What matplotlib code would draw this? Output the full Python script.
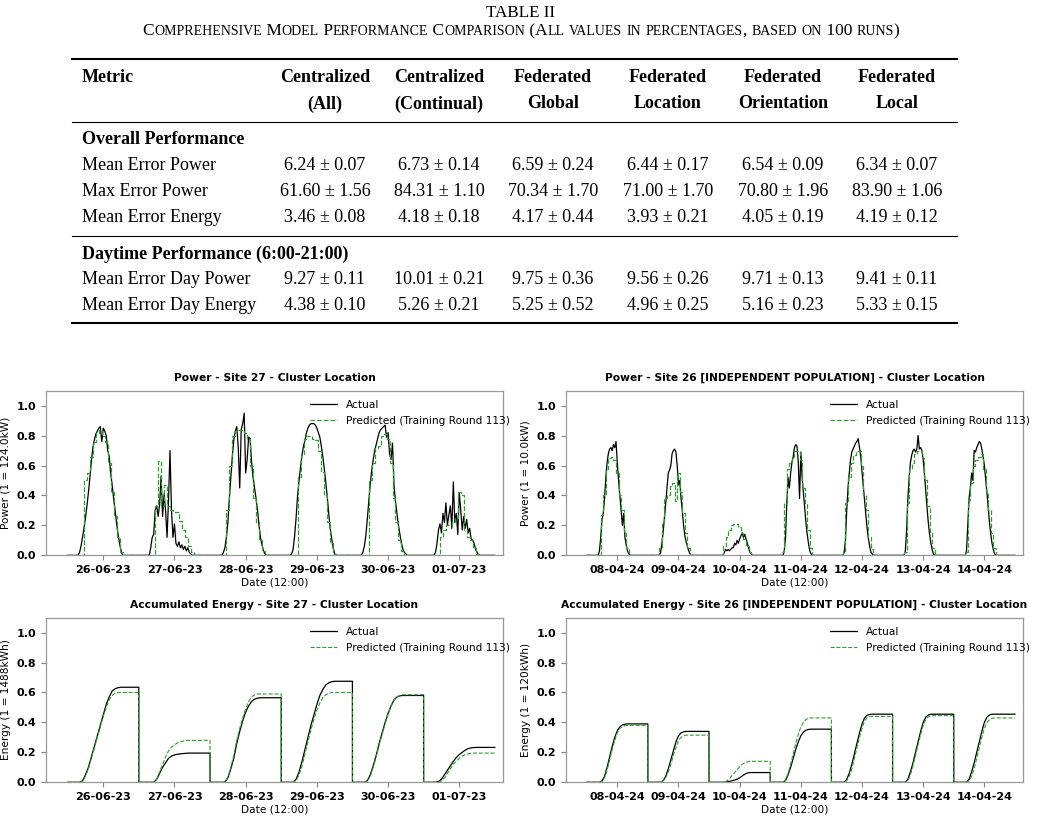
import numpy as np
import matplotlib
matplotlib.use("Agg")
import matplotlib.pyplot as plt
import matplotlib.dates as mdates
from matplotlib.lines import Line2D

W, H = 1042, 817

# ---- table data ----
TABLE_TITLE = "TABLE II"
TABLE_SUB = "Comprehensive Model Performance Comparison (All values in percentages, based on 100 runs)"
COLUMNS = [("Centralized", "(All)"), ("Centralized", "(Continual)"), ("Federated", "Global"),
           ("Federated", "Location"), ("Federated", "Orientation"), ("Federated", "Local")]
OVERALL_ROWS = ["Mean Error Power", "Max Error Power", "Mean Error Energy"]
OVERALL_MEAN = [[6.24, 6.73, 6.59, 6.44, 6.54, 6.34],
                [61.60, 84.31, 70.34, 71.00, 70.80, 83.90],
                [3.46, 4.18, 4.17, 3.93, 4.05, 4.19]]
OVERALL_STD = [[0.07, 0.14, 0.24, 0.17, 0.09, 0.07],
               [1.56, 1.10, 1.70, 1.70, 1.96, 1.06],
               [0.08, 0.18, 0.44, 0.21, 0.19, 0.12]]
DAY_ROWS = ["Mean Error Day Power", "Mean Error Day Energy"]
DAY_MEAN = [[9.27, 10.01, 9.75, 9.56, 9.71, 9.41],
            [4.38, 5.26, 5.25, 4.96, 5.16, 5.33]]
DAY_STD = [[0.11, 0.21, 0.36, 0.26, 0.13, 0.11],
           [0.10, 0.21, 0.52, 0.25, 0.23, 0.15]]

# ---- site 27 (half-hourly actual from 03:00, hourly predicted from 03:00) ----
S27_DAYS = ["2023-06-26", "2023-06-27", "2023-06-28", "2023-06-29", "2023-06-30", "2023-07-01"]
S27_POWER_ACT = [
    [0, 0, 0.02, 0.06, 0.12, 0.18, 0.25, 0.33, 0.42, 0.52, 0.63, 0.72, 0.77, 0.81, 0.83, 0.85, 0.86, 0.76,
     0.85, 0.83, 0.80, 0.70, 0.66, 0.55, 0.47, 0.38, 0.30, 0.21, 0.14, 0.08, 0.03, 0],
    [0, 0, 0.05, 0.12, 0.14, 0.30, 0.33, 0.26, 0.34, 0.53, 0.26, 0.41, 0.30, 0.12, 0.37, 0.70, 0.30, 0.12,
     0.21, 0.08, 0.06, 0.09, 0.05, 0.07, 0.04, 0.06, 0.03, 0.05, 0.02, 0.01, 0],
    [0, 0, 0, 0.02, 0.05, 0.12, 0.22, 0.38, 0.52, 0.66, 0.77, 0.83, 0.86, 0.72, 0.45, 0.84, 0.88, 0.95,
     0.55, 0.64, 0.79, 0.78, 0.62, 0.52, 0.45, 0.38, 0.30, 0.20, 0.12, 0.07, 0.03, 0.01, 0],
    [0, 0.01, 0.04, 0.13, 0.25, 0.40, 0.50, 0.59, 0.67, 0.73, 0.77, 0.82, 0.85, 0.87, 0.88, 0.88, 0.88, 0.87,
     0.85, 0.82, 0.79, 0.73, 0.66, 0.58, 0.49, 0.39, 0.28, 0.18, 0.11, 0.05, 0.01, 0],
    [0, 0.02, 0.06, 0.13, 0.24, 0.36, 0.48, 0.57, 0.64, 0.70, 0.74, 0.78, 0.82, 0.84, 0.85, 0.86, 0.87, 0.79,
     0.82, 0.68, 0.64, 0.75, 0.47, 0.36, 0.28, 0.20, 0.14, 0.08, 0.04, 0.02, 0.01, 0],
    [0, 0, 0.02, 0.08, 0.17, 0.21, 0.15, 0.28, 0.22, 0.35, 0.20, 0.27, 0.33, 0.18, 0.49, 0.22, 0.28, 0.14,
     0.42, 0.30, 0.17, 0.26, 0.18, 0.24, 0.15, 0.18, 0.11, 0.10, 0.08, 0.04, 0.02, 0],
]
S27_POWER_PRED = [
    [0, 0, 0, 0.50, 0.55, 0.66, 0.76, 0.82, 0.84, 0.80, 0.76, 0.62, 0.42, 0.26, 0.12, 0.02, 0],
    [0, 0, 0, 0.33, 0.63, 0.33, 0.47, 0.33, 0.30, 0.29, 0.29, 0.23, 0.17, 0.12, 0.06, 0.02, 0],
    [0, 0, 0, 0.30, 0.60, 0.80, 0.83, 0.84, 0.84, 0.82, 0.78, 0.60, 0.38, 0.22, 0.10, 0.03, 0],
    [0, 0, 0, 0.52, 0.68, 0.78, 0.80, 0.80, 0.78, 0.77, 0.70, 0.56, 0.40, 0.22, 0.08, 0.01, 0],
    [0, 0, 0, 0.50, 0.62, 0.72, 0.73, 0.80, 0.81, 0.78, 0.62, 0.38, 0.22, 0.10, 0.03, 0, 0],
    [0, 0, 0, 0.12, 0.17, 0.20, 0.20, 0.22, 0.25, 0.42, 0.40, 0.17, 0.12, 0.10, 0.05, 0.01, 0],
]
S27_ENERGY_ACT = [
    [0, 0, 0.01, 0.05, 0.10, 0.17, 0.24, 0.31, 0.38, 0.45, 0.52, 0.57, 0.61, 0.625, 0.632, 0.635],
    [0, 0, 0, 0.02, 0.06, 0.10, 0.13, 0.16, 0.175, 0.183, 0.187, 0.19, 0.192, 0.194, 0.195],
    [0, 0, 0, 0.03, 0.09, 0.16, 0.26, 0.34, 0.41, 0.47, 0.51, 0.54, 0.555, 0.562, 0.565],
    [0, 0, 0.02, 0.07, 0.14, 0.22, 0.30, 0.38, 0.45, 0.52, 0.58, 0.62, 0.65, 0.665, 0.672, 0.675],
    [0, 0, 0.01, 0.05, 0.11, 0.18, 0.26, 0.33, 0.40, 0.46, 0.51, 0.55, 0.57, 0.578, 0.58],
    [0, 0, 0.005, 0.02, 0.05, 0.08, 0.11, 0.14, 0.165, 0.185, 0.20, 0.215, 0.225, 0.23, 0.232, 0.233],
]
S27_ENERGY_PRED = [
    [0, 0, 0.005, 0.04, 0.09, 0.16, 0.23, 0.30, 0.37, 0.44, 0.50, 0.55, 0.58, 0.595, 0.60, 0.60],
    [0, 0, 0, 0.02, 0.07, 0.12, 0.17, 0.21, 0.235, 0.25, 0.263, 0.27, 0.276, 0.279, 0.28],
    [0, 0, 0, 0.035, 0.10, 0.18, 0.28, 0.36, 0.43, 0.49, 0.54, 0.57, 0.585, 0.59, 0.59],
    [0, 0, 0.01, 0.05, 0.11, 0.19, 0.27, 0.35, 0.42, 0.48, 0.53, 0.565, 0.585, 0.595, 0.60, 0.60],
    [0, 0, 0.005, 0.04, 0.10, 0.17, 0.25, 0.32, 0.39, 0.455, 0.51, 0.55, 0.572, 0.58, 0.585],
    [0, 0, 0, 0.01, 0.03, 0.06, 0.09, 0.12, 0.14, 0.16, 0.175, 0.185, 0.19, 0.194, 0.195],
]

# ---- site 26 (half-hourly actual from 04:00, hourly predicted / energy from 04:00) ----
S26_DAYS = ["2024-04-08", "2024-04-09", "2024-04-10", "2024-04-11", "2024-04-12", "2024-04-13", "2024-04-14"]
S26_POWER_ACT = [
    [0, 0, 0.03, 0.12, 0.24, 0.28, 0.38, 0.52, 0.62, 0.68, 0.71, 0.72, 0.70, 0.74, 0.72, 0.76, 0.62, 0.50,
     0.40, 0.30, 0.20, 0.28, 0.12, 0.07, 0.03, 0.01, 0],
    [0, 0, 0.02, 0.08, 0.16, 0.25, 0.35, 0.45, 0.55, 0.57, 0.60, 0.68, 0.70, 0.71, 0.69, 0.60, 0.47, 0.50,
     0.38, 0.30, 0.20, 0.13, 0.09, 0.06, 0.03, 0.01, 0],
    [0, 0, 0, 0, 0.02, 0.04, 0.03, 0.04, 0.03, 0.04, 0.05, 0.05, 0.08, 0.07, 0.10, 0.08, 0.11, 0.13,
     0.15, 0.12, 0.14, 0.11, 0.08, 0.05, 0.02, 0.01, 0],
    [0, 0, 0, 0.03, 0.12, 0.35, 0.52, 0.45, 0.55, 0.62, 0.66, 0.72, 0.74, 0.73, 0.62, 0.38, 0.69, 0.52,
     0.42, 0.32, 0.22, 0.14, 0.08, 0.03, 0.01, 0],
    [0, 0, 0.02, 0.10, 0.30, 0.45, 0.55, 0.64, 0.69, 0.71, 0.73, 0.75, 0.76, 0.78, 0.72, 0.66, 0.56, 0.46,
     0.37, 0.27, 0.18, 0.11, 0.06, 0.02, 0.01, 0],
    [0, 0, 0.03, 0.17, 0.38, 0.52, 0.62, 0.67, 0.70, 0.71, 0.69, 0.71, 0.80, 0.71, 0.72, 0.70, 0.64, 0.54,
     0.43, 0.32, 0.22, 0.14, 0.08, 0.04, 0.01, 0],
    [0, 0, 0.03, 0.20, 0.38, 0.45, 0.55, 0.50, 0.70, 0.69, 0.72, 0.74, 0.76, 0.75, 0.71, 0.66, 0.60, 0.51,
     0.42, 0.32, 0.22, 0.14, 0.08, 0.04, 0.01, 0],
]
S26_POWER_PRED = [
    [0, 0, 0.27, 0.40, 0.58, 0.65, 0.66, 0.64, 0.55, 0.40, 0.30, 0.15, 0.05, 0],
    [0, 0.05, 0.22, 0.38, 0.40, 0.46, 0.48, 0.36, 0.55, 0.42, 0.28, 0.15, 0.05, 0],
    [0, 0, 0.06, 0.12, 0.17, 0.20, 0.21, 0.21, 0.19, 0.15, 0.11, 0.06, 0.02, 0],
    [0, 0.02, 0.35, 0.58, 0.62, 0.66, 0.70, 0.70, 0.64, 0.45, 0.34, 0.17, 0.05, 0],
    [0, 0.02, 0.35, 0.52, 0.62, 0.67, 0.70, 0.70, 0.60, 0.40, 0.30, 0.12, 0.04, 0],
    [0, 0.02, 0.35, 0.58, 0.62, 0.68, 0.70, 0.70, 0.65, 0.50, 0.33, 0.15, 0.05, 0],
    [0, 0.02, 0.37, 0.48, 0.60, 0.64, 0.66, 0.68, 0.58, 0.42, 0.30, 0.15, 0.05, 0],
]
S26_ENERGY_ACT = [
    [0, 0, 0.01, 0.04, 0.10, 0.17, 0.24, 0.30, 0.345, 0.37, 0.383, 0.388, 0.39],
    [0, 0, 0.01, 0.04, 0.09, 0.15, 0.21, 0.27, 0.31, 0.33, 0.337, 0.34],
    [0, 0, 0, 0.003, 0.006, 0.01, 0.015, 0.02, 0.03, 0.042, 0.054, 0.062, 0.065],
    [0, 0, 0.01, 0.05, 0.10, 0.16, 0.22, 0.27, 0.31, 0.335, 0.348, 0.353, 0.355],
    [0, 0, 0.02, 0.06, 0.12, 0.19, 0.26, 0.33, 0.39, 0.43, 0.448, 0.453, 0.455],
    [0, 0, 0.02, 0.07, 0.13, 0.20, 0.27, 0.34, 0.40, 0.435, 0.45, 0.455],
    [0, 0, 0.02, 0.07, 0.13, 0.20, 0.27, 0.34, 0.40, 0.435, 0.45, 0.455],
]
S26_ENERGY_PRED = [
    [0, 0, 0.005, 0.03, 0.08, 0.15, 0.22, 0.28, 0.33, 0.36, 0.373, 0.378, 0.38],
    [0, 0, 0.01, 0.03, 0.07, 0.12, 0.18, 0.23, 0.28, 0.30, 0.31, 0.315],
    [0, 0, 0, 0.01, 0.025, 0.045, 0.065, 0.085, 0.105, 0.12, 0.13, 0.137, 0.14],
    [0, 0, 0.015, 0.06, 0.12, 0.19, 0.26, 0.32, 0.37, 0.40, 0.42, 0.428, 0.43],
    [0, 0, 0.01, 0.04, 0.09, 0.16, 0.23, 0.30, 0.36, 0.41, 0.432, 0.438, 0.44],
    [0, 0, 0.01, 0.05, 0.11, 0.18, 0.25, 0.32, 0.38, 0.42, 0.438, 0.444, 0.445],
    [0, 0, 0.01, 0.04, 0.09, 0.16, 0.23, 0.30, 0.36, 0.40, 0.42, 0.428, 0.43],
]
Y_TICKS = [0.0, 0.2, 0.4, 0.6, 0.8, 1.0]


def fx(x):
    return x / W


def fy(y):
    return 1 - y / H


def build(days, values, start_h, step_h, hold):
    # one day = 00:00 anchor, listed values, then 23:59 (zero or last value held)
    xs, ys = [], []
    for day, vals in zip(days, values):
        base = np.datetime64(day + "T00:00")
        mins = [0] + [int(round((start_h + i * step_h) * 60)) for i in range(len(vals))] + [23 * 60 + 59]
        xs.append(base + np.array(mins).astype("timedelta64[m]"))
        ys.extend([0.0] + list(vals) + [vals[-1] if hold else 0.0])
    return np.concatenate(xs), np.array(ys)


def style_axes(ax, days, xlim, title, ylabel):
    ax.set_ylim(0, 1.1)
    ax.set_xlim(np.datetime64(xlim[0]), np.datetime64(xlim[1]))
    ax.set_xticks([np.datetime64(d + "T12:00") for d in days])
    ax.xaxis.set_major_formatter(mdates.DateFormatter("%d-%m-%y"))
    ax.set_yticks(Y_TICKS)
    ax.tick_params(labelsize=8, color="#888888", length=3.5, width=0.8)
    plt.setp(ax.get_xticklabels() + ax.get_yticklabels(), fontweight="bold")
    for sp in ax.spines.values():
        sp.set_color("#999999")
        sp.set_linewidth(0.9)
    ax.set_title(title, fontsize=7.7, fontweight="bold", pad=7)
    ax.set_ylabel(ylabel, fontsize=7.6)
    ax.set_xlabel("Date (12:00)", fontsize=7.6, labelpad=2)
    ax.legend(loc="upper right", bbox_to_anchor=(1.035, 1.0), frameon=False, fontsize=7.6,
              handlelength=2.6, labelspacing=0.55)


def small_caps(fig, text, xc, y_base, size, ratio=0.8):
    r = fig.canvas.get_renderer()

    def adv(s, fs):
        # advance width measured between two bars so bearings and spaces count
        a = fig.text(0, 0, "I" + s + "I", fontsize=fs, family="Liberation Serif")
        b = fig.text(0, 0, "II", fontsize=fs, family="Liberation Serif")
        w = a.get_window_extent(r).width - b.get_window_extent(r).width
        a.remove()
        b.remove()
        return w

    pieces = []
    for ch in text:
        s, fs = (ch.upper(), size * ratio) if ch.islower() else (ch, size)
        if pieces and pieces[-1][1] == fs:
            pieces[-1][0] += s
        else:
            pieces.append([s, fs])
    widths = [adv(s, fs) for s, fs in pieces]
    x = xc - sum(widths) / 2
    for (s, fs), w in zip(pieces, widths):
        fig.text(fx(x), fy(y_base), s, fontsize=fs, family="Liberation Serif", ha="left", va="baseline")
        x += w


fig = plt.figure(figsize=(W / 100, H / 100), dpi=100)

# ---- table ----
serif = "Liberation Serif"
col_x = [325, 439, 553, 668, 783, 897]
fig.text(fx(521), fy(13), TABLE_TITLE, fontsize=12.3, family=serif, ha="center", va="center")
small_caps(fig, TABLE_SUB, 521, 35, 12.5)

for y, lw in [(59, 1.5), (122, 0.8), (236, 0.8), (323, 1.5)]:
    fig.add_artist(Line2D([fx(72), fx(957)], [fy(y), fy(y)], lw=lw, color="black"))

fig.text(fx(82), fy(78), "Metric", fontsize=13, family=serif, fontweight="bold", va="center")
for cx, (top, bot) in zip(col_x, COLUMNS):
    fig.text(fx(cx), fy(78), top, fontsize=13, family=serif, fontweight="bold", ha="center", va="center")
    fig.text(fx(cx), fy(104), bot, fontsize=13, family=serif, fontweight="bold", ha="center", va="center")

fig.text(fx(82), fy(140), "Overall Performance", fontsize=13, family=serif, fontweight="bold", va="center")
for i, name in enumerate(OVERALL_ROWS):
    y = 166 + 26 * i
    fig.text(fx(82), fy(y), name, fontsize=13, family=serif, va="center")
    for cx, m, s in zip(col_x, OVERALL_MEAN[i], OVERALL_STD[i]):
        fig.text(fx(cx), fy(y), f"{m:.2f} ± {s:.2f}", fontsize=13, family=serif, ha="center", va="center")

fig.text(fx(82), fy(254), "Daytime Performance (6:00-21:00)", fontsize=13, family=serif,
         fontweight="bold", va="center")
for i, name in enumerate(DAY_ROWS):
    y = 280 + 26 * i
    fig.text(fx(82), fy(y), name, fontsize=13, family=serif, va="center")
    for cx, m, s in zip(col_x, DAY_MEAN[i], DAY_STD[i]):
        fig.text(fx(cx), fy(y), f"{m:.2f} ± {s:.2f}", fontsize=13, family=serif, ha="center", va="center")

# ---- plots ----
aw, ah = 0.4386, 0.2015
ax_p27 = fig.add_axes([0.0441, 0.3203, aw, ah])
ax_p26 = fig.add_axes([0.5432, 0.3203, aw, ah])
ax_e27 = fig.add_axes([0.0441, 0.0425, aw, ah])
ax_e26 = fig.add_axes([0.5432, 0.0425, aw, ah])

lim27 = ("2023-06-25T16:41", "2023-07-02T02:44")
lim26 = ("2024-04-07T15:53", "2024-04-15T03:10")
pred_label = "Predicted (Training Round 113)"
green = "#2ca02c"

x, y = build(S27_DAYS, S27_POWER_ACT, 3, 0.5, False)
ax_p27.plot(x, y, color="black", lw=0.9, label="Actual")
x, y = build(S27_DAYS, S27_POWER_PRED, 3, 1, False)
ax_p27.plot(x, y, color=green, lw=0.9, ls="--", drawstyle="steps-mid", label=pred_label)
style_axes(ax_p27, S27_DAYS, lim27, "Power - Site 27 - Cluster Location", "Power (1 = 124.0kW)")

x, y = build(S26_DAYS, S26_POWER_ACT, 4, 0.5, False)
ax_p26.plot(x, y, color="black", lw=0.9, label="Actual")
x, y = build(S26_DAYS, S26_POWER_PRED, 4, 1, False)
ax_p26.plot(x, y, color=green, lw=0.9, ls="--", drawstyle="steps-mid", label=pred_label)
style_axes(ax_p26, S26_DAYS, lim26, "Power - Site 26 [INDEPENDENT POPULATION] - Cluster Location",
           "Power (1 = 10.0kW)")

x, y = build(S27_DAYS, S27_ENERGY_ACT, 3, 1, True)
ax_e27.plot(x, y, color="black", lw=0.9, label="Actual")
x, y = build(S27_DAYS, S27_ENERGY_PRED, 3, 1, True)
ax_e27.plot(x, y, color=green, lw=0.8, ls="--", label=pred_label)
style_axes(ax_e27, S27_DAYS, lim27, "Accumulated Energy - Site 27 - Cluster Location", "Energy (1 = 1488kWh)")

x, y = build(S26_DAYS, S26_ENERGY_ACT, 4, 1, True)
ax_e26.plot(x, y, color="black", lw=0.9, label="Actual")
x, y = build(S26_DAYS, S26_ENERGY_PRED, 4, 1, True)
ax_e26.plot(x, y, color=green, lw=0.8, ls="--", label=pred_label)
style_axes(ax_e26, S26_DAYS, lim26, "Accumulated Energy - Site 26 [INDEPENDENT POPULATION] - Cluster Location",
           "Energy (1 = 120kWh)")

fig.savefig("out.png", dpi=100)
